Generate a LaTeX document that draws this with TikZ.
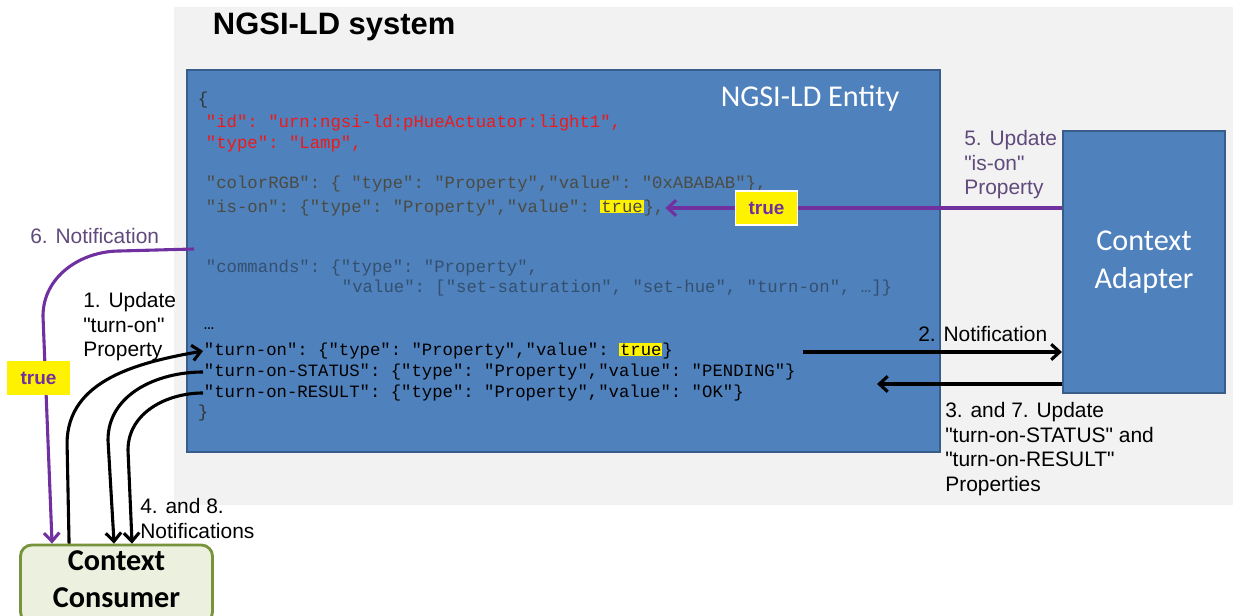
\documentclass[tikz,border=0pt]{standalone}
\usepackage{fontspec}
\setmainfont{Liberation Sans}[Ligatures=TeXOff]
\setmonofont{Liberation Mono}
\newfontfamily\calibri{Carlito}
\usepackage{tikz}
\usetikzlibrary{arrows.meta,positioning,calc}
\definecolor{mBlue}{HTML}{4F81BD}
\definecolor{mBlueDark}{HTML}{385D8A}
\definecolor{mBack}{HTML}{F2F2F2}
\definecolor{mPurple}{HTML}{7030A0}
\definecolor{mPurpleText}{HTML}{604A7B}
\definecolor{mGreen}{HTML}{EBF1DE}
\definecolor{mGreenDark}{HTML}{77933C}
\definecolor{mCodeRed}{HTML}{F01818}
\definecolor{mCodeGray}{HTML}{4A4C44}
\definecolor{mCodeLight}{HTML}{34506F}
\newcommand{\hltrue}{{\setlength{\fboxsep}{0.6pt}\colorbox{yellow}{true}}}

\begin{document}
\begin{tikzpicture}[x=0.025cm,y=0.025cm,>={Straight Barb[length=6pt,width=11pt]},
  code/.style={anchor=west,inner sep=0.5pt,font=\ttfamily\fontsize{12.3}{14}\selectfont},
  lbl/.style={anchor=north west,align=left,inner sep=0pt,font=\fontsize{14.9}{17.6}\selectfont},
  arr/.style={->,line width=2.2pt},
  parr/.style={->,mPurple,line width=2.2pt},
  truebox/.style={fill=yellow,draw=white,line width=1pt,text=mPurple,
    font=\bfseries\fontsize{13.5}{16}\selectfont,minimum width=1.55cm,minimum height=0.85cm}]
  \useasboundingbox (0,0) rectangle (1233,616);
  \clip (0,0) rectangle (1233,616);

  % NGSI-LD system (grey area)
  \fill[mBack] (174,111) rectangle (1233,609);
  \node[anchor=west,font=\bfseries\fontsize{22}{26}\selectfont] (sysTitle) at (208,589) {NGSI-LD system};

  % Entity box with its JSON lines
  \node[draw=mBlueDark,fill=mBlue,line width=1.5pt,minimum width=18.8cm,minimum height=9.55cm]
        (entity) at (563.5,355) {};
  \node[text=white,font=\calibri\fontsize{21.5}{26}\selectfont] (entityTitle) at (810,518) {NGSI-LD Entity};

  \node[code,text=black!80] (openBrace) at (197,516) {\{};
  \node[code,text=mCodeRed] (idLine) at (205,493) {"id": "urn:ngsi-ld:pHueActuator:light1",};
  \node[code,text=mCodeRed] (typeLine) at (205,472) {"type": "Lamp",};
  \node[code,text=mCodeGray] (colorLine) at (205,432) {"colorRGB": \{ "type": "Property","value": "0xABABAB"\},};
  \node[code,text=mCodeGray] (isOn) at (205,408) {"is-on": \{"type": "Property","value": \hltrue\},};
  \node[code,text=mCodeLight] (cmdLine) at (205,348) {"commands": \{"type": "Property",};
  \node[code,text=mCodeLight] (cmdValue) at (341,328) {"value": ["set-saturation", "set-hue", "turn-on", …]\}};
  \node[code,text=black] (dots) at (203,287) {…};
  \node[code,text=black] (turnOn) at (203,265) {"turn-on": \{"type": "Property","value": \hltrue\}};
  \node[code,text=black] (turnStatus) at (203,244) {"turn-on-STATUS": \{"type": "Property","value": "PENDING"\}};
  \node[code,text=black] (turnResult) at (203,223) {"turn-on-RESULT": \{"type": "Property","value": "OK"\}};
  \node[code,text=black!80] (closeBrace) at (197,203) {\}};

  % Context Adapter and Context Consumer
  \node[draw=mBlueDark,fill=mBlue,line width=1.5pt,minimum width=4.05cm,minimum height=6.55cm,
        text=white,align=center,font=\calibri\fontsize{21.5}{27}\selectfont] (adapter) at (1144,354) {Context\\Adapter};
  \node[draw=mGreenDark,fill=mGreen,line width=2pt,rounded corners=8pt,minimum width=4.8cm,minimum height=1.95cm,
        text depth=7pt,align=center,font=\calibri\bfseries\fontsize{21.5}{26}\selectfont] (consumer) at (116.5,32) {Context\\Consumer};

  % 5. update of is-on
  \draw[parr] (adapter.west |- isOn) -- node[truebox,pos=0.745] (trueRight) {true} (isOn.east);
  \node[lbl,text=mPurpleText] (lbl5) at (964,486) {5. Update\\"is-on"\\Property};

  % 2. notification and 3./7. update
  \coordinate (notifyOut) at (803,264);
  \coordinate (updateIn) at (877,232);
  \draw[arr] (notifyOut) -- (notifyOut -| adapter.west);
  \draw[arr] (updateIn -| adapter.west) -- (updateIn);
  \node[lbl,anchor=base west] (lbl2) at (918,274) {2. Notification};
  \node[lbl] (lbl3) at (945,214) {3. and 7. Update\\"turn-on-STATUS" and\\"turn-on-RESULT"\\Properties};

  % 6. notification to the consumer
  \coordinate (notifyLeft) at (194,367);
  \draw[parr] (notifyLeft) -- (120,365) to[out=180,in=90] (43,300) -- ($(consumer.north west)+(33,0)$);
  \node[truebox,draw=none] (trueLeft) at (38.5,238) {true};
  \node[lbl,text=mPurpleText,anchor=base west] (lbl6) at (30,372) {6. Notification};

  % 1. update and 4./8. notifications
  \draw[arr] ($(consumer.north west)+(50,0)$) -- ++(-2,100) to[out=90,in=190] (turnOn.west);
  \draw[arr] (turnStatus.west) to[out=180,in=90] (108,176) -- ($(consumer.north west)+(95,0)$);
  \draw[arr] (turnResult.west) to[out=180,in=90] (128,166) -- ($(consumer.north west)+(113,0)$);
  \node[lbl] (lbl1) at (83,324) {1. Update\\"turn-on"\\Property};
  \node[lbl] (lbl4) at (140,118) {4. and 8.\\Notifications};
\end{tikzpicture}
\end{document}
